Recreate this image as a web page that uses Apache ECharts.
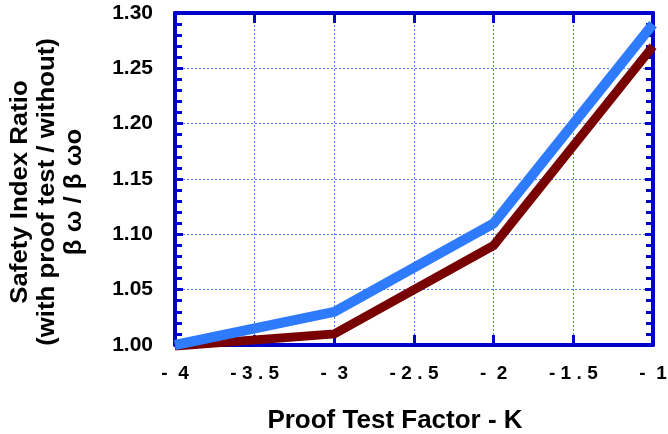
<!DOCTYPE html>
<html>
<head>
<meta charset="utf-8">
<script src="https://cdn.jsdelivr.net/npm/echarts@6/dist/echarts.min.js"></script>
<style>
  html, body { margin: 0; padding: 0; background: #fff; }
  #chart { width: 668px; height: 434px; }
</style>
</head>
<body>
<div id="chart"></div>
<script>
// Proof test factor K (x) against the safety index ratio (y)
const proofFactor = [-4, -3, -2, -1];
const ratioUpper = [1.00, 1.03, 1.11, 1.29];
const ratioLower = [0.999, 1.01, 1.09, 1.27];
const xTicks = { min: -4, max: -1, step: 0.5 };
const yTicks = { min: 1.0, max: 1.3, step: 0.05 };

const AXIS_BLUE = '#0000cc';
const GRID_BLUE = '#4a7dff';
const FONT = '"Liberation Sans", Arial, sans-serif';

// Tick labels are set with wide spacing between characters
function xLabel(v) {
  const r = Math.round(v * 10) / 10;
  if (Number.isInteger(r)) return '-\u00a0\u00a0' + Math.abs(r);
  return String(r).split('').join('\u2009\u200a');
}
function yLabel(v) {
  return v.toFixed(2);
}

const chart = echarts.init(document.getElementById('chart'), null, { renderer: 'canvas' });

const axisLine = { show: true, onZero: false, lineStyle: { color: AXIS_BLUE, width: 4 } };

chart.setOption({
  animation: false,
  grid: { left: 175, right: 15, top: 13, bottom: 89, containLabel: false, outerBoundsMode: 'none' },
  xAxis: [
    {
      type: 'value', position: 'bottom',
      min: xTicks.min, max: xTicks.max, interval: xTicks.step,
      axisLine,
      axisTick: { show: true, inside: true, length: 10, lineStyle: { color: AXIS_BLUE, width: 3 } },
      axisLabel: { margin: 19, formatter: xLabel, color: '#000', fontFamily: FONT, fontWeight: 'bold', fontSize: 19 },
      splitLine: { show: true, lineStyle: { color: GRID_BLUE, width: 1, type: [2, 2] } },
      name: 'Proof Test Factor - K', nameLocation: 'middle', nameGap: 63,
      nameTextStyle: { color: '#000', fontFamily: FONT, fontWeight: 'bold', fontSize: 26, padding: [0, 38, 0, 0] }
    },
    {
      type: 'value', position: 'top',
      min: xTicks.min, max: xTicks.max, interval: xTicks.step,
      axisLine,
      axisTick: { show: true, inside: true, length: 10, lineStyle: { color: AXIS_BLUE, width: 3 } },
      axisLabel: { show: false },
      splitLine: { show: false }
    }
  ],
  yAxis: [
    {
      type: 'value', position: 'left',
      min: yTicks.min, max: yTicks.max, interval: yTicks.step,
      axisLine,
      axisTick: { show: true, inside: true, length: 8, lineStyle: { color: AXIS_BLUE, width: 3 } },
      minorTick: { show: true, splitNumber: 5, length: 7, lineStyle: { color: AXIS_BLUE, width: 3 } },
      axisLabel: { margin: 22, formatter: yLabel, color: '#000', fontFamily: FONT, fontWeight: 'bold', fontSize: 21 },
      splitLine: { show: true, lineStyle: { color: GRID_BLUE, width: 1, type: [2, 2] } }
    },
    {
      type: 'value', position: 'right',
      min: yTicks.min, max: yTicks.max, interval: yTicks.step,
      axisLine,
      axisTick: { show: true, inside: true, length: 8, lineStyle: { color: AXIS_BLUE, width: 3 } },
      minorTick: { show: true, splitNumber: 5, length: 7, lineStyle: { color: AXIS_BLUE, width: 3 } },
      axisLabel: { show: false },
      splitLine: { show: false }
    }
  ],
  graphic: [
    {
      type: 'text', x: 48, y: 192, rotation: Math.PI / 2, scaleX: 1.12,
      style: {
        text: 'Safety Index Ratio\n(with proof test / without)\nβ ω / β ωο',
        align: 'center', verticalAlign: 'middle', lineHeight: 27,
        font: 'bold 23px ' + FONT, fill: '#000'
      }
    }
  ],
  series: [
    {
      type: 'line', xAxisIndex: 0, yAxisIndex: 0, z: 3,
      data: proofFactor.map((x, i) => [x, ratioLower[i]]),
      showSymbol: false, clip: false,
      lineStyle: { color: '#780000', width: 9, join: 'miter' }
    },
    {
      type: 'line', xAxisIndex: 0, yAxisIndex: 0, z: 4,
      data: proofFactor.map((x, i) => [x, ratioUpper[i]]),
      showSymbol: false, clip: false,
      lineStyle: { color: '#2f7bff', width: 10, join: 'miter' }
    }
  ]
});
</script>
</body>
</html>
